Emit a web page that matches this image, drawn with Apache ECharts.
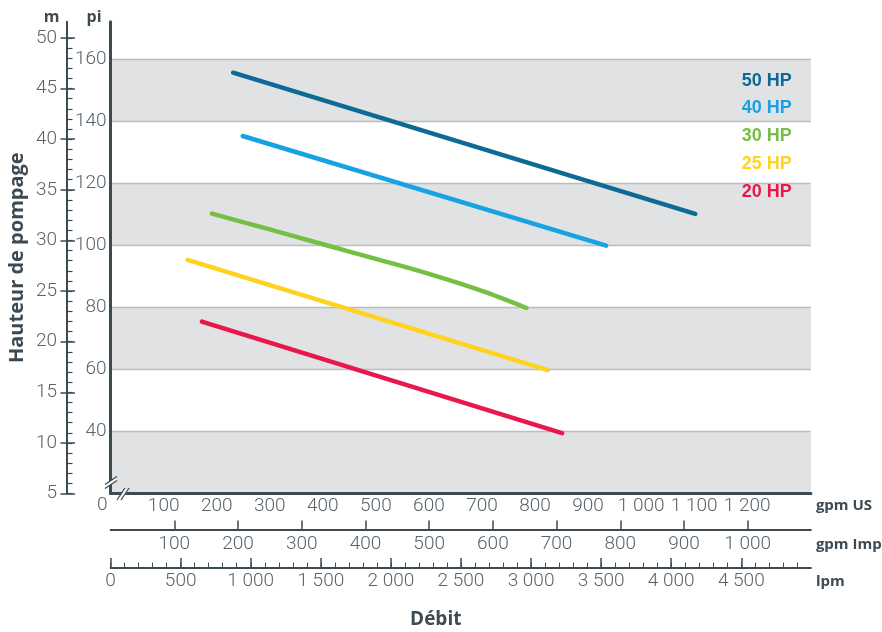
<!DOCTYPE html>
<html><head><meta charset="utf-8">
<script src="https://cdn.jsdelivr.net/npm/echarts@6/dist/echarts.min.js"></script>
<style>html,body{margin:0;padding:0;background:#fff}#c{width:882px;height:632px}</style>
</head><body><div id="c"></div><script>
// ---- data ----
const seriesNames = ['50 HP', '40 HP', '30 HP', '25 HP', '20 HP'];
const seriesColors = ['#0d6a97', '#17a2e4', '#74bf44', '#ffd220', '#e8194a'];
// [gpm US, hauteur (pi)]
const hp50 = [[231, 155.6], [1102, 110.1]];
const hp40 = [[249, 135.2], [934, 99.9]];
const hp30 = [[191, 110.2], [300, 105.1], [407, 100.0], [500, 95.6], [600, 90.8], [700, 85.3], [784, 79.8]];
const hp25 = [[145, 95.3], [824, 59.8]];
const hp20 = [[172, 75.4], [851, 39.5]];
// tick labels
const piTicks = [40, 60, 80, 100, 120, 140, 160];
const mTicks = [5, 10, 15, 20, 25, 30, 35, 40, 45, 50];
const gpmUsTicks = [100, 200, 300, 400, 500, 600, 700, 800, 900, 1000, 1100, 1200];
const gpmImpTicks = [100, 200, 300, 400, 500, 600, 700, 800, 900, 1000];
const lpmTicks = [0, 500, 1000, 1500, 2000, 2500, 3000, 3500, 4000, 4500];

// ---- scales ----
const GPM_MAX = 1320;
const IMP_PER_US = 1 / 1.20095;
const LPM_PER_US = 3.78541;
const PI_MIN = 20, PI_MAX = 172;
const M_MIN = 5, M_MAX = 51.6;

const mMinor = []; for (let v = M_MIN; v <= 50; v++) mMinor.push(v);
const lpmMinor = []; for (let v = 0; v < 5000; v += 100) lpmMinor.push(v);

const dark = '#3e4a52';
const tickColor = '#59636a';
const tickFont = "Roboto, 'Liberation Sans', sans-serif";
const boldFont = "'Open Sans', 'Liberation Sans', sans-serif";
const fmt = v => v >= 1000 ? Math.floor(v / 1000) + ' ' + String(v % 1000).padStart(3, '0') : String(v);
const lbl = (extra) => Object.assign({fontFamily: tickFont, fontWeight: 300, fontSize: 19, lineHeight: 20, color: tickColor, formatter: fmt}, extra);
const unitName = (lh) => ({fontFamily: boldFont, fontWeight: 'bold', fontSize: 15, color: dark, align: 'left', verticalAlign: 'top', lineHeight: lh});
const dataSets = [hp50, hp40, hp30, hp25, hp20];

const chart = echarts.init(document.getElementById('c'), null, {renderer: 'canvas'});
chart.setOption({
  animation: false,
  backgroundColor: '#fff',
  grid: {left: 110.6, right: 71.1, top: 21.8, bottom: 138.4, containLabel: false, outerBoundsMode: 'none'},
  legend: {
    orient: 'vertical', left: 736.7, top: 71.7, padding: 0, icon: 'none', itemWidth: 0, itemHeight: 10, itemGap: 9.75,
    selectedMode: false,
    textStyle: {fontFamily: "'Liberation Sans', sans-serif", fontWeight: 'bold', fontSize: 18, lineHeight: 18},
    data: seriesNames.map((n, i) => ({name: n, textStyle: {color: seriesColors[i]}}))
  },
  xAxis: [
    { // gpm US
      type: 'value', min: 0, max: GPM_MAX, interval: 100, position: 'bottom', offset: 0,
      axisLine: {show: true, onZero: false, lineStyle: {color: dark, width: 3}},
      axisTick: {show: false}, splitLine: {show: false},
      axisLabel: lbl({margin: 3, customValues: gpmUsTicks}),
      name: 'gpm US', nameLocation: 'end', nameGap: 5, nameTextStyle: unitName(25)
    },
    { // gpm Imp
      type: 'value', min: 0, max: GPM_MAX * IMP_PER_US, interval: 100, position: 'bottom', offset: 36,
      axisLine: {show: true, onZero: false, lineStyle: {color: dark, width: 2}},
      axisTick: {show: true, inside: true, length: 9, lineStyle: {color: dark, width: 1.5}, customValues: gpmImpTicks},
      splitLine: {show: false},
      axisLabel: lbl({margin: 5, customValues: gpmImpTicks}),
      name: 'gpm Imp', nameLocation: 'end', nameGap: 5, nameTextStyle: unitName(31)
    },
    { // lpm
      type: 'value', min: 0, max: GPM_MAX * LPM_PER_US, interval: 500, position: 'bottom', offset: 74,
      axisLine: {show: true, onZero: false, lineStyle: {color: dark, width: 2}},
      axisTick: {show: true, inside: true, length: 9.5, lineStyle: {color: dark, width: 1.5}, customValues: lpmTicks},
      splitLine: {show: false},
      axisLabel: lbl({margin: 4, customValues: lpmTicks}),
      name: 'lpm', nameLocation: 'end', nameGap: 5, nameTextStyle: unitName(28)
    },
    { // lpm minor ticks + axis title
      type: 'value', min: 0, max: GPM_MAX * LPM_PER_US, interval: 100, position: 'bottom', offset: 74,
      axisLine: {show: false, onZero: false},
      axisTick: {show: true, inside: true, length: 5, lineStyle: {color: dark, width: 1}, customValues: lpmMinor},
      axisLabel: {show: false}, splitLine: {show: false},
      name: 'Débit', nameLocation: 'middle', nameGap: 42,
      nameTextStyle: {fontFamily: boldFont, fontWeight: 'bold', fontSize: 19, lineHeight: 20, color: dark, padding: [0, 50, 0, 0]}
    }
  ],
  yAxis: [
    { // pi
      type: 'value', min: PI_MIN, max: PI_MAX, interval: 20, position: 'left', offset: 0,
      axisLine: {show: true, onZero: false, lineStyle: {color: dark, width: 3}},
      axisTick: {show: false},
      axisLabel: lbl({margin: 4, customValues: piTicks}),
      splitLine: {show: true, showMinLine: false, showMaxLine: false, lineStyle: {color: '#bdbdbd', width: 1.3}},
      splitArea: {show: true, areaStyle: {color: ['#e1e2e4', '#ffffff']}},
      name: 'pi', nameLocation: 'end', nameGap: 4,
      nameTextStyle: {fontFamily: boldFont, fontWeight: 'bold', fontSize: 16, color: dark, align: 'center', verticalAlign: 'middle', padding: [0, 33, 0, 0]}
    },
    { // m: line, outer ticks, labels
      type: 'value', min: M_MIN, max: M_MAX, interval: 5, position: 'left', offset: 43.6,
      axisLine: {show: true, onZero: false, lineStyle: {color: dark, width: 2}},
      axisTick: {show: true, inside: false, length: 6.5, lineStyle: {color: dark, width: 1.5}, customValues: mTicks},
      axisLabel: lbl({margin: 10, customValues: mTicks}),
      splitLine: {show: false},
      name: 'm', nameLocation: 'end', nameGap: 4,
      nameTextStyle: {fontFamily: boldFont, fontWeight: 'bold', fontSize: 16, color: dark, align: 'center', verticalAlign: 'middle', padding: [0, 31, 0, 0]}
    },
    { // m: inner major ticks + title
      type: 'value', min: M_MIN, max: M_MAX, interval: 5, position: 'left', offset: 43.6,
      axisLine: {show: false, onZero: false},
      axisTick: {show: true, inside: true, length: 8, lineStyle: {color: dark, width: 1.5}, customValues: mTicks},
      axisLabel: {show: false}, splitLine: {show: false},
      name: 'Hauteur de pompage', nameLocation: 'middle', nameRotate: 90, nameGap: 39,
      nameTextStyle: {fontFamily: boldFont, fontWeight: 'bold', fontSize: 20, lineHeight: 22, color: dark}
    },
    { // m: inner minor ticks
      type: 'value', min: M_MIN, max: M_MAX, interval: 1, position: 'left', offset: 43.6,
      axisLine: {show: false, onZero: false},
      axisTick: {show: true, inside: true, length: 5.5, lineStyle: {color: dark, width: 1.2}, customValues: mMinor},
      axisLabel: {show: false}, splitLine: {show: false}
    }
  ],
  series: seriesNames.map((n, i) => ({
    name: n, type: 'line', xAxisIndex: 0, yAxisIndex: 0,
    data: dataSets[i], showSymbol: false, symbol: 'none', smooth: dataSets[i].length > 2 ? 0.3 : false,
    color: seriesColors[i],
    lineStyle: {color: seriesColors[i], width: 4.5, cap: 'round', join: 'round'},
    z: 5
  })),
  graphic: [
    // "0" label at the broken origin
    {type: 'text', left: 97, top: 496, z: 10, style: {text: '0', fontFamily: tickFont, fontWeight: 300, fontSize: 19, fill: tickColor}},
    // axis break marks (left axis)
    {type: 'polygon', z: 20, shape: {points: [[106, 484], [116, 477], [116, 481], [106, 488]]}, style: {fill: '#fff'}},
    {type: 'line', z: 21, shape: {x1: 105, y1: 484.5, x2: 117, y2: 476.5}, style: {stroke: dark, lineWidth: 1.3}},
    {type: 'line', z: 21, shape: {x1: 105, y1: 488.5, x2: 117, y2: 480.5}, style: {stroke: dark, lineWidth: 1.3}},
    // axis break marks (bottom axis)
    {type: 'polygon', z: 20, shape: {points: [[118, 499], [125, 489], [129, 489], [122, 499]]}, style: {fill: '#fff'}},
    {type: 'line', z: 21, shape: {x1: 117, y1: 500, x2: 125, y2: 488}, style: {stroke: dark, lineWidth: 1.3}},
    {type: 'line', z: 21, shape: {x1: 121, y1: 500, x2: 129, y2: 488}, style: {stroke: dark, lineWidth: 1.3}}
  ]
});
</script></body></html>
